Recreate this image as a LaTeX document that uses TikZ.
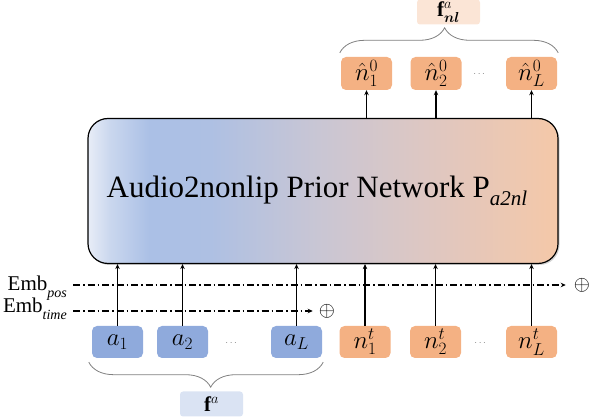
\documentclass[tikz,border=0pt]{standalone}
\usepackage{amsmath}
\usepackage{fontspec}
\setmainfont{Liberation Serif}
\usetikzlibrary{arrows.meta,decorations.pathreplacing,shadows}

\definecolor{ablue}{HTML}{8FAADC}
\definecolor{norange}{HTML}{F4B183}
\definecolor{lblue}{HTML}{DAE3F3}
\definecolor{lpeach}{HTML}{FBE5D6}
\definecolor{bracegray}{HTML}{808080}
\definecolor{sa}{HTML}{E8EDF7}
\definecolor{sb}{HTML}{CAD7EE}
\definecolor{sc}{HTML}{ABC0E6}
\definecolor{sd}{HTML}{AEC0E3}
\definecolor{se}{HTML}{C9C6D4}
\definecolor{sf}{HTML}{DEC7C2}
\definecolor{sg}{HTML}{F5C8A8}

\pgfdeclarehorizontalshading{netshade}{100bp}{color(0bp)=(sa); color(25bp)=(sa); color(27.35bp)=(sb); color(31.5bp)=(sc); color(38bp)=(sd); color(49.5bp)=(se); color(61bp)=(sf); color(75bp)=(sg); color(100bp)=(sg)}

\begin{document}
\begin{tikzpicture}[x=1pt,y=-1pt,
  tok/.style={rounded corners=5pt, minimum width=51pt, minimum height=32pt, inner sep=0pt, font=\fontsize{24}{24}\selectfont},
  atok/.style={tok, fill=ablue},
  ntok/.style={tok, fill=norange},
  lbl/.style={rounded corners=3pt, minimum width=63pt, minimum height=25pt, inner sep=0pt, font=\fontsize{21}{21}\selectfont},
  arr/.style={-{Stealth[length=5pt,width=4.5pt]}, line width=1.3pt},
  emb/.style={line width=1.2pt, dash pattern=on 7pt off 3pt on 1.5pt off 3pt},
  brc/.style={decorate, decoration={brace, amplitude=25pt, aspect=#1}, draw=bracegray, line width=0.8pt},
  dotsn/.style={font=\fontsize{10}{10}\selectfont, text=gray, inner sep=0pt},
  oplusn/.style={inner sep=0pt, font=\fontsize{20}{20}\selectfont},
  embl/.style={anchor=base east, inner sep=0pt, font=\fontsize{21}{21}\selectfont}
]
\useasboundingbox (0,0) rectangle (589,419);

% main network box
\node[draw, line width=1.2pt, rounded corners=20pt, shade, shading=netshade,
      minimum width=470pt, minimum height=145pt, inner sep=0pt,
      drop shadow={shadow xshift=1.5pt, shadow yshift=-1.5pt, opacity=0.35},
      font=\fontsize{31}{31}\selectfont] (net) at (323,191)
  {Audio2nonlip Prior Network P\raisebox{-0.28em}{\fontsize{21}{21}\selectfont\itshape a2nl}\kern12pt};

% bottom tokens
\node[atok] (a1) at (117.5,342) {$a_1$};
\node[atok] (a2) at (182.5,342) {$a_2$};
\node[dotsn] (ad) at (232,343) {$\cdots$};
\node[atok] (aL) at (296.5,342) {$a_L$};
\node[ntok] (n1) at (365,342) {$n_1^t$};
\node[ntok] (n2) at (435.5,342) {$n_2^t$};
\node[dotsn] (nd) at (481,343) {$\cdots$};
\node[ntok] (nL) at (531.5,342) {$n_L^t$};

% top tokens
\node[ntok, minimum height=33pt] (h1) at (366.5,73.5) {$\hat{n}_1^0$};
\node[ntok, minimum height=33pt] (h2) at (436,73.5) {$\hat{n}_2^0$};
\node[dotsn] (hd) at (480,74) {$\cdots$};
\node[ntok, minimum height=33pt] (hL) at (531.5,73.5) {$\hat{n}_L^0$};

% labels
\node[lbl, fill=lblue] (fa) at (211.5,404) {$\mathbf{f}^{a}$};
\node[lbl, fill=lpeach] (fnl) at (448.5,12) {$\mathbf{f}^{a}_{\boldsymbol{nl}}$};

% embedding lines
\node[embl] (ep) at (67,291) {Emb\raisebox{-0.3em}{\fontsize{14}{14}\selectfont\itshape pos}};
\node[embl] (et) at (67,313) {Emb\raisebox{-0.3em}{\fontsize{14}{14}\selectfont\itshape time}};
\coordinate (ps) at (73,285);
\coordinate (ts) at (73,311);
\node[oplusn] (op) at (582,285) {$\oplus$};
\node[oplusn] (ot) at (327,311) {$\oplus$};
\draw[emb, -{Stealth[length=5pt,width=4.5pt]}] (ps) -- ([xshift=-8pt]op.west |- ps);
\draw[emb, -{Stealth[length=5pt,width=4.5pt]}] (ts) -- ([xshift=-6pt]ot.west |- ts);

% input arrows
\foreach \n in {a1,a2,aL,n1,n2,nL}
  \draw[arr] (\n.north) -- (\n |- net.south);
% output arrows
\foreach \n in {h1,h2,hL}
  \draw[arr] (\n |- net.north) -- (\n.south);

% braces
\draw[brc=0.48] ([xshift=1pt,yshift=-4pt]aL.south east) -- ([xshift=-3pt,yshift=-4pt]a1.south west);
\draw[brc=0.48] ([xshift=-1pt,yshift=4pt]h1.north west) -- ([xshift=1pt,yshift=4pt]hL.north east);
\end{tikzpicture}
\end{document}
